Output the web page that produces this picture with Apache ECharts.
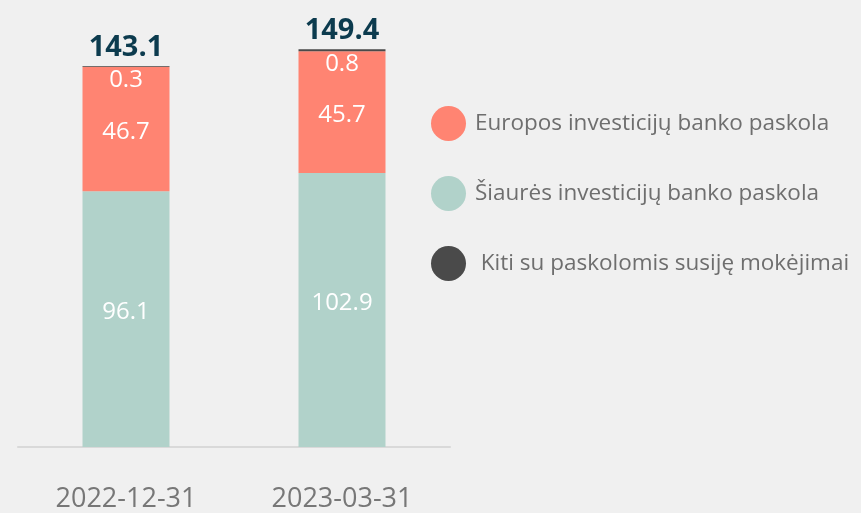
<!DOCTYPE html>
<html>
<head>
<meta charset="utf-8">
<script src="https://cdn.jsdelivr.net/npm/echarts@6/dist/echarts.min.js"></script>
<style>
  html, body { margin: 0; padding: 0; background: #f0f0f0; }
  #chartView { width: 861px; height: 513px; }
</style>
</head>
<body>
<div id="chartView"></div>
<script>
var categories = ['2022-12-31', '2023-03-31'];
var siauresVals = [96.1, 102.9];
var europosVals = [46.7, 45.7];
var kitiVals = [0.3, 0.8];
var seriesNames = ['Europos investicijų banko paskola', 'Šiaurės investicijų banko paskola', ' Kiti su paskolomis susiję mokėjimai'];

// bendra suma virš stulpelio
var totals = [];
for (var i = 0; i < categories.length; i++) {
	totals.push(Math.round((siauresVals[i] + europosVals[i] + kitiVals[i]) * 10) / 10);
}

var fontName = '"Open Sans", "Noto Sans", sans-serif';
var myChart = echarts.init(document.getElementById('chartView'));

var option = {
	backgroundColor: '#f0f0f0',
	animation: false,
	textStyle: { fontFamily: fontName },
	grid: { left: 18, right: 411, top: 21, bottom: 66 },
	legend: {
		orient: 'vertical',
		left: 426,
		top: 101,
		icon: 'circle',
		itemWidth: 35,
		itemHeight: 35,
		itemGap: 35,
		data: seriesNames,
		textStyle: { color: '#6e6e6e', fontSize: 22.5, fontFamily: fontName, padding: [0, 0, 0, 4] }
	},
	xAxis: {
		type: 'category',
		data: categories,
		axisLine: { lineStyle: { color: '#d9d9d9', width: 2 } },
		axisTick: { show: false },
		axisLabel: { color: '#777777', fontSize: 27, margin: 39, fontFamily: fontName }
	},
	yAxis: {
		type: 'value',
		min: 0,
		max: 160,
		show: false
	},
	series: [
		{
			name: seriesNames[1],
			type: 'bar',
			stack: 'total',
			barWidth: 87,
			data: siauresVals,
			itemStyle: { color: '#b1d2ca' },
			label: { show: true, position: 'inside', color: '#ffffff', fontSize: 24, fontFamily: fontName, offset: [0, -7] }
		},
		{
			name: seriesNames[0],
			type: 'bar',
			stack: 'total',
			barWidth: 87,
			data: europosVals,
			itemStyle: { color: '#ff8472' },
			label: { show: true, position: 'inside', color: '#ffffff', fontSize: 24, fontFamily: fontName, offset: [0, 3] }
		},
		{
			name: seriesNames[2],
			type: 'bar',
			stack: 'total',
			barWidth: 87,
			data: kitiVals,
			itemStyle: { color: '#4a4a4a' },
			label: { show: true, position: 'bottom', distance: 1, color: '#ffffff', fontSize: 24, fontFamily: fontName }
		},
		{
			name: 'Iš viso',
			type: 'bar',
			barWidth: 87,
			barGap: '-100%',
			data: totals,
			itemStyle: { color: 'rgba(0,0,0,0)' },
			z: 1,
			silent: true,
			label: {
				show: true,
				position: 'top',
				distance: 4,
				color: '#0c3b4e',
				fontSize: 29,
				fontWeight: 'bold',
				fontFamily: fontName
			}
		}
	]
};

myChart.setOption(option);
</script>
</body>
</html>
